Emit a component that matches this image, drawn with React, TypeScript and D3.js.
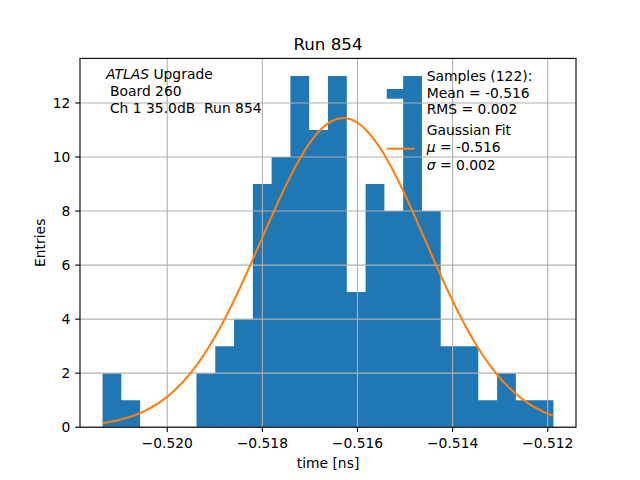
import React from "react";
import * as d3 from "d3";

// ---- Data ----
const binStart = -0.52136;
const binWidth = 0.000395;
const counts = [2, 1, 0, 0, 0, 2, 3, 4, 9, 10, 13, 11, 13, 5, 9, 8, 13, 8, 3, 3, 1, 2, 1, 1];
const xTicks = [-0.52, -0.518, -0.516, -0.514, -0.512];
const yTicks = [0, 2, 4, 6, 8, 10, 12];
const fitAmplitude = 11.44;
const fitMu = -0.5163;
const fitSigma = 0.00172;
const titleText = "Run 854";
const infoLines = [" Board 260", " Ch 1 35.0dB  Run 854"];
const sampleLegend = ["Samples (122):", "Mean = -0.516", "RMS = 0.002"];
const fitLegend = ["Gaussian Fit", "= -0.516", "= 0.002"];
const fitSymbols = ["μ", "σ"];

const W = 640;
const H = 480;
const L = 80;
const R = 576;
const T = 58.4;
const B = 427.2;
const FONT = "DejaVu Sans, sans-serif";
const FS = 13.89;
const BLUE = "#1f77b4";
const ORANGE = "#ff7f0e";

export default function App() {
  const binEnd = binStart + binWidth * counts.length;
  const range = binEnd - binStart;
  const x = d3
    .scaleLinear()
    .domain([binStart - 0.05 * range, binEnd + 0.05 * range])
    .range([L, R]);
  const y = d3.scaleLinear().domain([0, 13.65]).range([B, T]);

  const bins = counts.map((c, i) => ({
    x0: binStart + i * binWidth,
    x1: binStart + (i + 1) * binWidth,
    c,
  }));

  // all bars as one path so adjacent bars render without seams
  const barPath = d3.path();
  bins.forEach((b) => {
    if (b.c > 0) {
      barPath.rect(x(b.x0), y(b.c), x(b.x1) - x(b.x0), y(0) - y(b.c));
    }
  });

  const gauss = (v: number) =>
    fitAmplitude * Math.exp(-((v - fitMu) ** 2) / (2 * fitSigma * fitSigma));
  const nPts = 200;
  const pts: [number, number][] = d3.range(nPts + 1).map((i) => {
    const v = binStart + (range * i) / nPts;
    return [v, gauss(v)];
  });
  const line = d3
    .line<[number, number]>()
    .x((d) => x(d[0]))
    .y((d) => y(d[1]));

  const fmtX = (v: number) => (v < 0 ? "\u2212" : "") + Math.abs(v).toFixed(3);

  return (
    <svg
      width={W}
      height={H}
      style={{ position: "absolute", left: 0, top: 0, background: "#fff" }}
      fontFamily={FONT}
    >
      <rect x={0} y={0} width={W} height={H} fill="#fff" />
      {/* bars */}
      <path d={barPath.toString()} fill={BLUE} />
      {/* grid */}
      {xTicks.map((t) => (
        <line key={"gx" + t} x1={x(t)} x2={x(t)} y1={T} y2={B} stroke="#b0b0b0" strokeWidth={1.11} />
      ))}
      {yTicks.map((t) => (
        <line key={"gy" + t} x1={L} x2={R} y1={y(t)} y2={y(t)} stroke="#b0b0b0" strokeWidth={1.11} />
      ))}
      {/* fit curve */}
      <path d={line(pts) || ""} fill="none" stroke={ORANGE} strokeWidth={2.08} />
      {/* spines */}
      <rect x={L} y={T} width={R - L} height={B - T} fill="none" stroke="#000" strokeWidth={1.11} />
      {/* x ticks */}
      {xTicks.map((t) => (
        <g key={"tx" + t}>
          <line x1={x(t)} x2={x(t)} y1={B} y2={B + 4.86} stroke="#000" strokeWidth={1.11} />
          <text x={x(t)} y={448.2} textAnchor="middle" fontSize={FS} fill="#000">
            {fmtX(t)}
          </text>
        </g>
      ))}
      {/* y ticks */}
      {yTicks.map((t) => (
        <g key={"ty" + t}>
          <line x1={L - 4.86} x2={L} y1={y(t)} y2={y(t)} stroke="#000" strokeWidth={1.11} />
          <text x={70.3} y={y(t) + 5.05} textAnchor="end" fontSize={FS} fill="#000">
            {String(t)}
          </text>
        </g>
      ))}
      {/* labels */}
      <text x={(L + R) / 2} y={467.5} textAnchor="middle" fontSize={FS} fill="#000">
        time [ns]
      </text>
      <text
        transform={`translate(45,${(T + B) / 2}) rotate(-90)`}
        textAnchor="middle"
        fontSize={FS}
        fill="#000"
      >
        Entries
      </text>
      <text x={(L + R) / 2} y={49.7} textAnchor="middle" fontSize={16.67} fill="#000">
        {titleText}
      </text>
      {/* info text */}
      <text x={106} y={79.2} fontSize={FS} fill="#000" style={{ whiteSpace: "pre" }}>
        <tspan fontStyle="italic">ATLAS</tspan>
        <tspan> Upgrade</tspan>
      </text>
      {infoLines.map((s, i) => (
        <text
          key={"info" + i}
          x={105.5}
          y={96.4 + i * 16.9}
          fontSize={FS}
          fill="#000"
          style={{ whiteSpace: "pre" }}
        >
          {s}
        </text>
      ))}
      {/* legend */}
      <rect x={386.7} y={89} width={27.8} height={9.7} fill={BLUE} />
      {sampleLegend.map((s, i) => (
        <text key={"sl" + i} x={426.7} y={81 + i * 16.7} fontSize={FS} fill="#000">
          {s}
        </text>
      ))}
      <line x1={386.7} x2={414.5} y1={148.7} y2={148.7} stroke={ORANGE} strokeWidth={2.08} />
      <text x={426.7} y={134.6} fontSize={FS} fill="#000">
        {fitLegend[0]}
      </text>
      {[0, 1].map((i) => (
        <text
          key={"fl" + i}
          x={426.7}
          y={152 + i * 18.2}
          fontSize={FS}
          fill="#000"
          style={{ whiteSpace: "pre" }}
        >
          <tspan fontStyle="italic">{fitSymbols[i]}</tspan>
          <tspan>{" " + fitLegend[i + 1]}</tspan>
        </text>
      ))}
    </svg>
  );
}
